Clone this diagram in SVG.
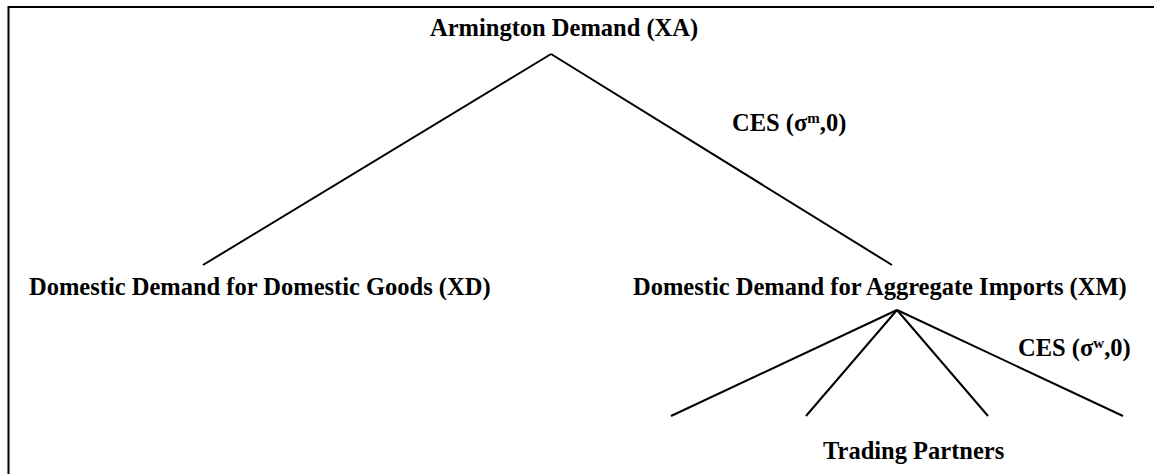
<svg xmlns="http://www.w3.org/2000/svg" width="1154" height="474" viewBox="0 0 1154 474">
<style>
text{font-family:"Liberation Serif","Times New Roman",serif;font-weight:bold;font-size:24.5px;fill:#000}
.sup{font-size:15px}
line{stroke:#000;stroke-width:2}
</style>
<rect width="1154" height="474" fill="#fff"/>
<line x1="8" y1="7" x2="1154" y2="7" stroke-width="2.5"/>
<line x1="8.5" y1="6" x2="8.5" y2="474" stroke-width="2.5"/>
<g id="connectors">
<line x1="551" y1="54" x2="203" y2="265"/>
<line x1="551" y1="54" x2="892" y2="265"/>
<line x1="897" y1="310" x2="671" y2="416"/>
<line x1="897" y1="310" x2="806" y2="416"/>
<line x1="897" y1="310" x2="988" y2="416"/>
<line x1="897" y1="310" x2="1123" y2="416"/>
</g>
<g id="node-xa"><text x="430" y="36">Armington Demand (XA)</text></g>
<g id="label-ces-m"><text x="732" y="131">CES (σ<tspan class="sup" dy="-8">m</tspan><tspan dy="8">,0)</tspan></text></g>
<g id="node-xd"><text x="29" y="295">Domestic Demand for Domestic Goods (XD)</text></g>
<g id="node-xm"><text x="633" y="295">Domestic Demand for Aggregate Imports (XM)</text></g>
<g id="label-ces-w"><text x="1018" y="356">CES (σ<tspan class="sup" dy="-8">w</tspan><tspan dy="8">,0)</tspan></text></g>
<g id="node-tp"><text x="823" y="459">Trading Partners</text></g>
</svg>
